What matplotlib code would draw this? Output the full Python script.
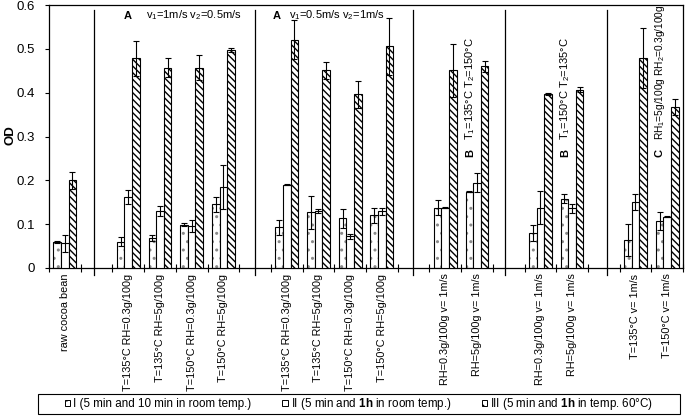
import numpy as np
import matplotlib
matplotlib.use("Agg")
import matplotlib.pyplot as plt
from matplotlib.patches import Rectangle

plt.rcParams['font.family'] = ['Liberation Sans', 'DejaVu Sans']
plt.rcParams['mathtext.fontset'] = 'custom'
plt.rcParams['mathtext.rm'] = 'Liberation Sans'
plt.rcParams['mathtext.it'] = 'Liberation Sans:italic'
plt.rcParams['mathtext.bf'] = 'Liberation Sans:bold'
plt.rcParams['hatch.linewidth'] = 1.0

nan = np.nan
categories = ['raw cocoa bean', '',
              'T=135°C RH=0.3g/100g', 'T=135°C RH=5g/100g', 'T=150°C RH=0.3g/100g', 'T=150°C RH=5g/100g', '',
              'T=135°C RH=0.3g/100g', 'T=135°C RH=5g/100g', 'T=150°C RH=0.3g/100g', 'T=150°C RH=5g/100g', '',
              'RH=0.3g/100g v= 1m/s', 'RH=5g/100g v= 1m/s', '',
              'RH=0.3g/100g v= 1m/s', 'RH=5g/100g v= 1m/s', '',
              'T=135°C v= 1m/s', 'T=150°C v= 1m/s']

I_vals = [0.059, nan, 0.060, 0.068, 0.099, 0.145, nan, 0.093, 0.127, 0.113, 0.120, nan,
          0.137, 0.174, nan, 0.080, 0.158, nan, 0.064, 0.107]
I_err = [0.003, nan, 0.010, 0.007, 0.003, 0.017, nan, 0.017, 0.038, 0.022, 0.017, nan,
         0.017, 0.001, nan, 0.019, 0.010, nan, 0.037, 0.021]
II_vals = [0.056, nan, 0.162, 0.130, 0.095, 0.185, nan, 0.190, 0.130, 0.072, 0.130, nan,
           0.138, 0.195, nan, 0.138, 0.136, nan, 0.150, 0.117]
II_err = [0.019, nan, 0.015, 0.011, 0.014, 0.050, nan, 0.001, 0.005, 0.006, 0.008, nan,
          0.002, 0.021, nan, 0.037, 0.010, nan, 0.018, 0.001]
III_vals = [0.200, nan, 0.478, 0.457, 0.457, 0.497, nan, 0.521, 0.451, 0.396, 0.506, nan,
            0.451, 0.460, nan, 0.397, 0.407, nan, 0.479, 0.367]
III_err = [0.019, nan, 0.041, 0.021, 0.028, 0.005, nan, 0.045, 0.020, 0.030, 0.065, nan,
           0.061, 0.013, nan, 0.002, 0.005, nan, 0.069, 0.019]

legend_labels = ['I (5 min and 10 min in room temp.)',
                 'II (5 min and $\\mathbf{1h}$ in room temp.)',
                 'III (5 min and $\\mathbf{1h}$ in temp. 60°C)']

W, H = 685, 416
fig = plt.figure(figsize=(W/100, H/100), dpi=100)
ax = fig.add_axes([49/W, 1-268/H, (683-49)/W, (268-5)/H])

n = len(categories)
x = np.arange(n)
w = 0.24
fs = 7.8
afs = 8.0

# series I: dotted
ax.bar(x - w, I_vals, w, color='white', edgecolor='#8a8a8a', hatch='..', linewidth=0, zorder=2)
ax.bar(x - w, I_vals, w, fill=False, edgecolor='black', linewidth=0.8, zorder=3)
# series II: plain white
ax.bar(x, II_vals, w, color='white', edgecolor='black', linewidth=0.8, zorder=3)
# series III: dense diagonal
ax.bar(x + w, III_vals, w, color='white', edgecolor='black', hatch='\\\\\\\\\\', linewidth=0.8, zorder=3)

ekw = dict(fmt='none', ecolor='black', elinewidth=0.8, capsize=2.5, capthick=0.8, zorder=4)
ax.errorbar(x - w, I_vals, yerr=I_err, **ekw)
ax.errorbar(x, II_vals, yerr=II_err, **ekw)
ax.errorbar(x + w, III_vals, yerr=III_err, **ekw)

ax.set_xlim(-0.5, n - 0.5)
ax.set_ylim(0, 0.6)
ax.set_yticks(np.arange(0, 0.61, 0.1))
ax.set_yticklabels(['0', '0.1', '0.2', '0.3', '0.4', '0.5', '0.6'], fontsize=9.5)
ax.tick_params(axis='y', length=3, width=0.8, pad=7)

ax.set_xticks(x)
ax.set_xticklabels(categories, rotation=90, fontsize=fs, va='top', ha='center')
ax.tick_params(axis='x', length=0, pad=4)
ax.set_xticks(np.arange(-0.5, n, 1.0), minor=True)
ax.tick_params(axis='x', which='minor', direction='inout', length=6, width=0.8)

for s in ax.spines.values():
    s.set_linewidth(0.9)

# group separators
for sx in [0.92, 6.0, 10.97, 13.9, 17.1]:
    ax.plot([sx, sx], [-0.016, 0.589], color='black', lw=0.9, clip_on=False, zorder=5)

fig.text(10/W, 1-135/H, 'OD', rotation=90, fontsize=9.5, fontweight='bold', ha='center', va='center')

# annotations
ax.text(1.97, 0.576, 'A', fontsize=afs, fontweight='bold', ha='center', va='center')
ax.text(2.57, 0.576, 'v$_1$=1m/s v$_2$=0.5m/s', fontsize=afs, ha='left', va='center')
ax.text(6.68, 0.576, 'A', fontsize=afs, fontweight='bold', ha='center', va='center')
ax.text(7.06, 0.576, 'v$_1$=0.5m/s v$_2$=1m/s', fontsize=afs, ha='left', va='center')

for xa, letter, txt, tfs in [(12.79, 'B', 'T$_1$=135°C T$_2$=150°C', 8.0),
                             (15.77, 'B', 'T$_1$=150°C T$_2$=135°C', 8.0),
                             (18.77, 'C', 'RH$_1$=5g/100g RH$_2$=0.3g/100g', 7.3)]:
    ax.text(xa, 0.263, letter, rotation=90, fontsize=afs, fontweight='bold', ha='center', va='center')
    ax.text(xa, 0.293, txt, rotation=90, fontsize=tfs, ha='center', va='bottom', clip_on=False)

# legend
h1 = Rectangle((0, 0), 1, 1, facecolor='white', edgecolor='black', hatch='..', linewidth=0.7)
h2 = Rectangle((0, 0), 1, 1, facecolor='white', edgecolor='black', linewidth=0.7)
h3 = Rectangle((0, 0), 1, 1, facecolor='white', edgecolor='black', hatch='\\\\\\', linewidth=0.7)
leg = fig.legend([h1, h2, h3], legend_labels, loc='center', ncol=3,
                 bbox_to_anchor=(359/W, 1-404/H), fontsize=8.4, frameon=False,
                 handlelength=0.5, handleheight=0.5,
                 handletextpad=0.25, columnspacing=2.6, borderpad=0.2)
fig.patches.append(Rectangle((38/W, 1-414/H), (680-38)/W, 20/H, transform=fig.transFigure,
                             fill=False, edgecolor='black', linewidth=0.8))

fig.savefig('out.png', dpi=100)
